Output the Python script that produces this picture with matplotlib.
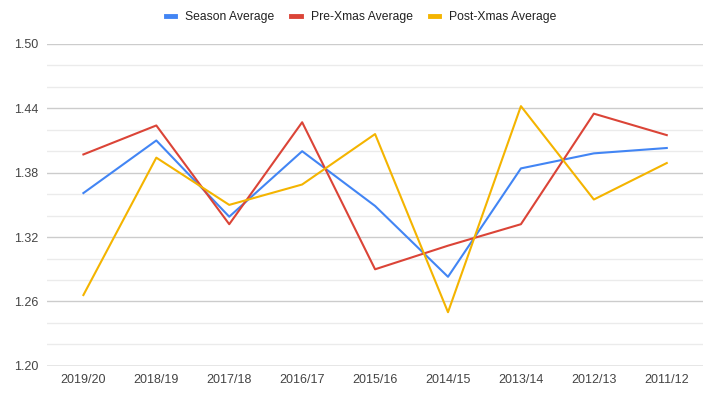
import matplotlib.pyplot as plt
from matplotlib.ticker import MultipleLocator
import numpy as np

plt.rcParams['font.family'] = ['Liberation Sans', 'DejaVu Sans']

seasons = ["2019/20", "2018/19", "2017/18", "2016/17", "2015/16",
           "2014/15", "2013/14", "2012/13", "2011/12"]
season_avg = [1.361, 1.410, 1.339, 1.400, 1.349, 1.283, 1.384, 1.398, 1.403]
pre_xmas = [1.397, 1.424, 1.332, 1.427, 1.290, 1.312, 1.332, 1.435, 1.415]
post_xmas = [1.266, 1.394, 1.350, 1.369, 1.416, 1.250, 1.442, 1.355, 1.389]

fig = plt.figure(figsize=(7.22, 3.99), dpi=100)
ax = fig.add_axes([0.065, 0.083, 0.909, 0.807])

x = np.arange(len(seasons))
ax.plot(x, season_avg, color="#4285F4", lw=1.5, label="Season Average")
ax.plot(x, pre_xmas, color="#DB4437", lw=1.5, label="Pre-Xmas Average")
ax.plot(x, post_xmas, color="#F4B400", lw=1.5, label="Post-Xmas Average")

ax.set_xlim(-0.5, len(seasons) - 0.5)
ax.set_ylim(1.20, 1.50)
ax.set_xticks(x)
ax.set_xticklabels(seasons)
ax.set_yticks([1.20, 1.26, 1.32, 1.38, 1.44, 1.50])
ax.yaxis.set_minor_locator(MultipleLocator(0.02))
ax.grid(axis="y", which="major", color="#cccccc", lw=1)
ax.grid(axis="y", which="minor", color="#ebebeb", lw=1)
ax.set_axisbelow(True)
ax.tick_params(axis="both", which="both", length=0, labelsize=9, colors="#444444")
ax.tick_params(axis="y", pad=6)
ax.tick_params(axis="x", pad=6)
for s in ax.spines.values():
    s.set_visible(False)
ax.axhline(1.20, color="#aaaaaa", lw=1, zorder=1)

leg = fig.legend(loc="upper center", bbox_to_anchor=(0.5, 1.0), ncol=3, frameon=False,
                 fontsize=8.7, handlelength=0.8, handletextpad=0.8, columnspacing=1.4)
for h in leg.get_lines():
    h.set_linewidth(3.5)
for t in leg.get_texts():
    t.set_color("#222222")

fig.savefig("out.png", dpi=100)
